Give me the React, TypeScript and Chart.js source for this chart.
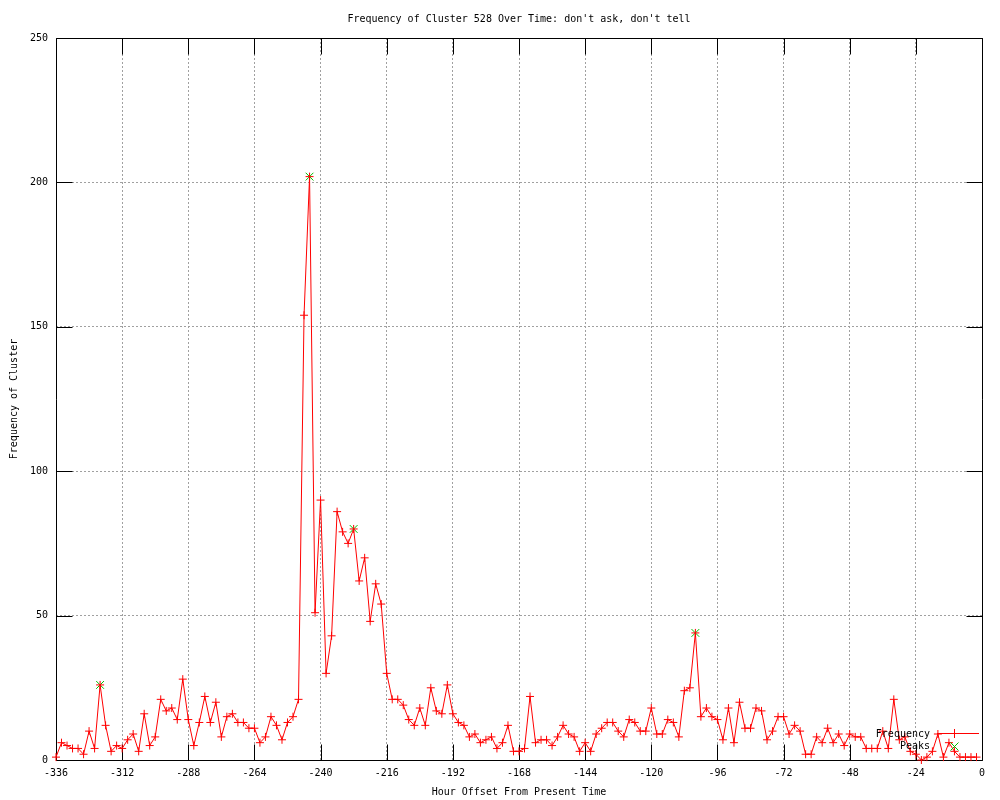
import React, { useEffect, useRef } from 'react';
import { Chart, registerables } from 'chart.js';

Chart.register(...registerables);

const TITLE = "Frequency of Cluster 528 Over Time: don't ask, don't tell";
const X_TITLE = 'Hour Offset From Present Time';
const Y_TITLE = 'Frequency of Cluster';
const SERIES_LABEL = 'Frequency';
const PEAKS_LABEL = 'Peaks';

const HOURS = [
  -336, -334, -332, -330, -328, -326, -324, -322, -320, -318,
  -316, -314, -312, -310, -308, -306, -304, -302, -300, -298,
  -296, -294, -292, -290, -288, -286, -284, -282, -280, -278,
  -276, -274, -272, -270, -268, -266, -264, -262, -260, -258,
  -256, -254, -252, -250, -248, -246, -244, -242, -240, -238,
  -236, -234, -232, -230, -228, -226, -224, -222, -220, -218,
  -216, -214, -212, -210, -208, -206, -204, -202, -200, -198,
  -196, -194, -192, -190, -188, -186, -184, -182, -180, -178,
  -176, -174, -172, -170, -168, -166, -164, -162, -160, -158,
  -156, -154, -152, -150, -148, -146, -144, -142, -140, -138,
  -136, -134, -132, -130, -128, -126, -124, -122, -120, -118,
  -116, -114, -112, -110, -108, -106, -104, -102, -100, -98,
  -96, -94, -92, -90, -88, -86, -84, -82, -80, -78,
  -76, -74, -72, -70, -68, -66, -64, -62, -60, -58,
  -56, -54, -52, -50, -48, -46, -44, -42, -40, -38,
  -36, -34, -32, -30, -28, -26, -24, -22, -20, -18,
  -16, -14, -12, -10, -8, -6, -4, -2,
];

const FREQUENCY = [
  1, 6, 5, 4, 4, 2, 10, 4, 26, 12,
  3, 5, 4, 7, 9, 3, 16, 5, 8, 21,
  17, 18, 14, 28, 14, 5, 13, 22, 13, 20,
  8, 15, 16, 13, 13, 11, 11, 6, 8, 15,
  12, 7, 13, 15, 21, 154, 202, 51, 90, 30,
  43, 86, 79, 75, 80, 62, 70, 48, 61, 54,
  30, 21, 21, 19, 14, 12, 18, 12, 25, 17,
  16, 26, 16, 13, 12, 8, 9, 6, 7, 8,
  4, 6, 12, 3, 3, 4, 22, 6, 7, 7,
  5, 8, 12, 9, 8, 3, 6, 3, 9, 11,
  13, 13, 10, 8, 14, 13, 10, 10, 18, 9,
  9, 14, 13, 8, 24, 25, 44, 15, 18, 15,
  14, 7, 18, 6, 20, 11, 11, 18, 17, 7,
  10, 15, 15, 9, 12, 10, 2, 2, 8, 6,
  11, 6, 9, 5, 9, 8, 8, 4, 4, 4,
  10, 4, 21, 7, 8, 3, 2, 0, 1, 3,
  9, 1, 6, 3, 1, 1, 1, 1,
];

const PEAK_HOURS = [-320, -244, -228, -104];
const PEAK_VALUES = [26, 202, 80, 44];

const X_TICKS = [-336, -312, -288, -264, -240, -216, -192, -168, -144, -120, -96, -72, -48, -24, 0];
const Y_TICKS = [0, 50, 100, 150, 200, 250];

const FONT_FAMILY = '"DejaVu Sans Mono", "Liberation Mono", monospace';
const RED = '#ff0000';
const GREEN = '#00c000';
const GRID = '#a0a0a0';
const TICK_LEN = 16;

const framePlugin = {
  id: 'gnuFrame',
  beforeDatasetsDraw(chart: any) {
    const { ctx, chartArea: a, scales } = chart;
    const xs = scales.x;
    const ys = scales.y;
    const L = Math.round(a.left) + 0.5;
    const R = Math.round(a.right) + 0.5;
    const T = Math.round(a.top) + 0.5;
    const B = Math.round(a.bottom) + 0.5;
    ctx.save();
    ctx.setLineDash([]);
    ctx.strokeStyle = '#000';
    ctx.lineWidth = 1;
    ctx.beginPath();
    ctx.rect(L, T, R - L, B - T);
    X_TICKS.forEach((v) => {
      const px = Math.round(xs.getPixelForValue(v)) + 0.5;
      ctx.moveTo(px, B);
      ctx.lineTo(px, B - TICK_LEN);
      ctx.moveTo(px, T);
      ctx.lineTo(px, T + TICK_LEN);
    });
    Y_TICKS.forEach((v) => {
      const py = Math.round(ys.getPixelForValue(v)) + 0.5;
      ctx.moveTo(L, py);
      ctx.lineTo(L + TICK_LEN, py);
      ctx.moveTo(R, py);
      ctx.lineTo(R - TICK_LEN, py);
    });
    ctx.stroke();
    ctx.restore();
  },
};

const keyPlugin = {
  id: 'gnuKey',
  afterDatasetsDraw(chart: any) {
    const { ctx, chartArea: a } = chart;
    const textRight = a.right - 52;
    const sampleL = a.right - 45;
    const sampleR = a.right - 3;
    const markX = a.right - 28;
    const y1 = a.bottom - 27;
    const y2 = a.bottom - 14;
    ctx.save();
    ctx.font = `10px ${FONT_FAMILY}`;
    ctx.fillStyle = '#000';
    ctx.textAlign = 'right';
    ctx.textBaseline = 'middle';
    ctx.fillText(SERIES_LABEL, textRight, y1 + 1);
    ctx.fillText(PEAKS_LABEL, textRight, y2);
    ctx.lineWidth = 1;
    ctx.strokeStyle = RED;
    ctx.beginPath();
    ctx.moveTo(sampleL, y1 + 0.5);
    ctx.lineTo(sampleR, y1 + 0.5);
    ctx.moveTo(markX + 0.5, y1 - 4);
    ctx.lineTo(markX + 0.5, y1 + 5);
    ctx.stroke();
    ctx.strokeStyle = GREEN;
    ctx.beginPath();
    ctx.moveTo(markX - 3.5, y2 - 3.5);
    ctx.lineTo(markX + 4.5, y2 + 4.5);
    ctx.moveTo(markX + 4.5, y2 - 3.5);
    ctx.lineTo(markX - 3.5, y2 + 4.5);
    ctx.stroke();
    ctx.restore();
  },
};

export default function App() {
  const canvasRef = useRef<HTMLCanvasElement | null>(null);

  useEffect(() => {
    const canvas = canvasRef.current;
    if (!canvas) return;
    const tickFont = { family: FONT_FAMILY, size: 10 };
    const chart = new Chart(canvas, {
      type: 'line',
      data: {
        datasets: [
          {
            label: SERIES_LABEL,
            data: HOURS.map((h, i) => ({ x: h, y: FREQUENCY[i] })),
            borderColor: RED,
            backgroundColor: RED,
            borderWidth: 1,
            pointStyle: 'cross',
            pointRadius: 4,
            pointHoverRadius: 4,
            pointBorderWidth: 1,
            pointBorderColor: RED,
            tension: 0,
            fill: false,
            clip: false,
          } as any,
          {
            label: PEAKS_LABEL,
            data: PEAK_HOURS.map((h, i) => ({ x: h, y: PEAK_VALUES[i] })),
            showLine: false,
            borderColor: GREEN,
            backgroundColor: GREEN,
            pointStyle: 'crossRot',
            pointRadius: 5.5,
            pointHoverRadius: 5.5,
            pointBorderWidth: 1,
            pointBorderColor: GREEN,
            clip: false,
          } as any,
        ],
      },
      options: {
        animation: false,
        responsive: false,
        events: [],
        layout: { padding: { left: 0, right: 18, top: 0, bottom: 0 } },
        plugins: {
          legend: { display: false },
          tooltip: { enabled: false },
          title: {
            display: true,
            text: TITLE,
            fullSize: false,
            color: '#000',
            font: { family: FONT_FAMILY, size: 10, weight: 'normal' },
            padding: { top: 13, bottom: 13 },
          },
        },
        scales: {
          x: {
            type: 'linear',
            min: -336,
            max: 0,
            afterBuildTicks: (s: any) => {
              s.ticks = X_TICKS.map((v) => ({ value: v }));
            },
            afterFit: (s: any) => {
              s.height = 40;
            },
            ticks: {
              color: '#000',
              font: tickFont,
              padding: 7,
              maxRotation: 0,
              autoSkip: false,
            },
            grid: {
              color: GRID,
              lineWidth: 1,
              drawTicks: false,
              drawOnChartArea: true,
            },
            border: { display: false, dash: [2, 2] },
            title: {
              display: true,
              text: X_TITLE,
              color: '#000',
              font: tickFont,
              padding: { top: 0, bottom: 2 },
            },
          },
          y: {
            type: 'linear',
            min: 0,
            max: 250,
            afterBuildTicks: (s: any) => {
              s.ticks = Y_TICKS.map((v) => ({ value: v }));
            },
            afterFit: (s: any) => {
              s.width = 56;
            },
            ticks: {
              color: '#000',
              font: tickFont,
              padding: 8,
              autoSkip: false,
            },
            grid: {
              color: GRID,
              lineWidth: 1,
              drawTicks: false,
              drawOnChartArea: true,
            },
            border: { display: false, dash: [2, 2] },
            title: {
              display: true,
              text: Y_TITLE,
              color: '#000',
              font: tickFont,
              padding: { top: 8, bottom: 0 },
            },
          },
        },
      },
      plugins: [framePlugin, keyPlugin],
    } as any);
    return () => chart.destroy();
  }, []);

  return (
    <div
      style={{
        position: 'fixed',
        left: 0,
        top: 0,
        width: 1000,
        height: 800,
        background: '#fff',
      }}
    >
      <canvas ref={canvasRef} width={1000} height={800} style={{ display: 'block' }} />
    </div>
  );
}
